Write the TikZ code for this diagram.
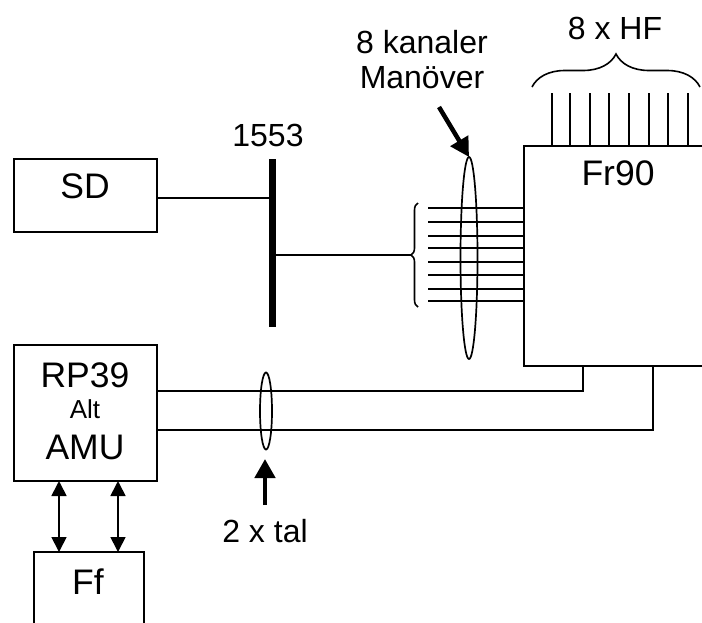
\documentclass[tikz,border=0pt]{standalone}
\usepackage{fontspec}
\setmainfont{Liberation Sans}
\usetikzlibrary{positioning, arrows.meta, shapes.geometric, decorations.pathreplacing}

\begin{document}
\begin{tikzpicture}[
  x=1pt, y=-1pt,
  mod/.style={draw, line width=1.9pt, inner sep=0pt, outer sep=0pt, anchor=north west},
  big/.style={font=\fontsize{35.5}{35.5}\selectfont, inner sep=0pt},
  lbl/.style={font=\fontsize{32}{32}\selectfont, inner sep=0pt},
  wire/.style={line width=2pt},
  brc/.style={line width=1.6pt, decorate},
  arr/.style={line width=1.7pt, {Triangle[length=15pt, width=15pt]}-{Triangle[length=15pt, width=15pt]}},
  fat/.style={line width=4.5pt, -{Triangle[length=19pt, width=20pt]}}
]
  \useasboundingbox (0,0) rectangle (702,622);
  \clip (0,0) rectangle (702,622);

  \node[mod, minimum width=143pt, minimum height=73pt] (sd) at (14,159) {};
  \node[mod, minimum width=143pt, minimum height=136pt] (rp) at (14,345) {};
  \node[mod, minimum width=110pt, minimum height=100pt] (ff) at (34,552) {};
  \node[mod, minimum width=220pt, minimum height=220pt] (fr) at (524,146) {};

  \node[big] at (85,186) {SD};
  \node[big] at (85,375) {RP39};
  \node[font=\fontsize{26}{26}\selectfont, inner sep=0pt] at (85,409) {Alt};
  \node[big] at (85,447) {AMU};
  \node[big] at (88,582) {Ff};
  \node[big] at (618,173) {Fr90};

  \coordinate (bustop) at (272.5,159);
  \coordinate (busbot) at (272.5,327);
  \coordinate (busjoin) at (272.5,255);
  \coordinate (sdjoin) at (272.5,198);
  \coordinate (brtip) at (411,255);
  \draw[line width=6.5pt] (bustop) -- (busbot);
  \draw[wire] (sd.east |- sdjoin) -- (sdjoin);
  \draw[wire] (busjoin) -- (brtip);
  \draw[brc, decoration={brace, amplitude=7pt}] (418,307) -- (418,203);

  \node[lbl] (bus1553) at (268,135) {1553};

  \foreach \ypos in {208,222,236,248,262,275,289,301}
    \draw[wire] (428,\ypos) -- (fr.west |- 0,\ypos);

  \node[draw, ellipse, line width=1.7pt, minimum width=17pt, minimum height=202pt, inner sep=0pt, outer sep=0pt] (manell) at (469,258) {};
  \node[lbl] (kan) at (422,42) {8 kanaler};
  \node[lbl, below=12pt of kan] (man) {Manöver};
  \coordinate (mantail) at (439,107);
  \draw[fat] (mantail) -- (manell.north);

  \foreach \xpos in {552,570,590,609,629,649,668,688}
    \draw[wire] (\xpos,93) -- (\xpos,0 |- fr.north);
  \draw[brc, decoration={brace, amplitude=33pt}] (532,87) -- (700,87);
  \node[lbl] (hf) at (615,28) {8 x HF};

  \coordinate (fra) at (583,391);
  \coordinate (frb) at (653,430);
  \draw[wire] (rp.east |- fra) -- (fra) -- (fra |- fr.south);
  \draw[wire] (rp.east |- frb) -- (frb) -- (frb |- fr.south);

  \node[draw, ellipse, line width=1.7pt, minimum width=12pt, minimum height=77pt, inner sep=0pt, outer sep=0pt] (talell) at (266,411) {};
  \node[lbl] (tal) at (265,531) {2 x tal};
  \coordinate (taltail) at (265,505);
  \coordinate (taltip) at (265,459);
  \draw[fat] (taltail) -- (taltip);

  \draw[arr] (59,0 |- rp.south) -- (59,0 |- ff.north);
  \draw[arr] (118,0 |- rp.south) -- (118,0 |- ff.north);
\end{tikzpicture}
\end{document}
